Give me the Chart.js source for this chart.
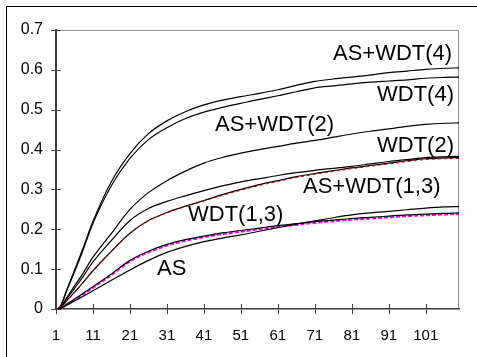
<!DOCTYPE html>
<html lang="en">

<head>
    <meta charset="UTF-8">
    <title>Convergence curves</title>
    <script src="https://cdn.jsdelivr.net/npm/chart.js"></script>
    <style>
        html,
        body {
            margin: 0;
            padding: 0;
            background-color: #ffffff;
        }

        .chart-container {
            position: relative;
            width: 477px;
            height: 357px;
        }
    </style>
</head>

<body>

    <div class="chart-container">
        <canvas id="lineChart" width="477" height="357"></canvas>
    </div>

    <script>
        // x positions of the sampled points
        const xValues = [1, 2, 4, 6, 8, 11, 16, 21, 26, 31, 36, 41, 46, 51, 56, 61, 66, 71, 76, 81, 86, 91, 96, 101, 106, 110];

        const asWdt4 = [0, 0.004, 0.05, 0.097, 0.145, 0.22, 0.32, 0.39, 0.44, 0.472, 0.495, 0.512, 0.524, 0.533, 0.541, 0.55, 0.561, 0.571, 0.577, 0.582, 0.587, 0.593, 0.597, 0.601, 0.604, 0.605];
        const wdt4 = [0, 0.004, 0.048, 0.093, 0.14, 0.215, 0.31, 0.378, 0.425, 0.455, 0.478, 0.494, 0.506, 0.516, 0.526, 0.535, 0.545, 0.555, 0.56, 0.565, 0.569, 0.572, 0.575, 0.579, 0.581, 0.582];
        const asWdt2 = [0, 0.003, 0.03, 0.058, 0.085, 0.13, 0.19, 0.25, 0.292, 0.322, 0.346, 0.366, 0.38, 0.391, 0.4, 0.408, 0.416, 0.423, 0.431, 0.439, 0.446, 0.452, 0.458, 0.463, 0.466, 0.467];
        const wdt2 = [0, 0.003, 0.027, 0.052, 0.077, 0.118, 0.172, 0.222, 0.252, 0.27, 0.284, 0.297, 0.309, 0.319, 0.327, 0.335, 0.342, 0.348, 0.353, 0.358, 0.364, 0.37, 0.375, 0.38, 0.382, 0.383];
        const asWdt13 = [0, 0.002, 0.022, 0.042, 0.063, 0.096, 0.145, 0.19, 0.222, 0.242, 0.258, 0.272, 0.287, 0.3, 0.312, 0.322, 0.332, 0.34, 0.347, 0.354, 0.36, 0.366, 0.372, 0.377, 0.379, 0.38];
        const wdt13 = [0, 0.002, 0.013, 0.025, 0.037, 0.056, 0.088, 0.122, 0.145, 0.162, 0.174, 0.183, 0.191, 0.197, 0.203, 0.209, 0.214, 0.219, 0.223, 0.227, 0.23, 0.233, 0.236, 0.238, 0.24, 0.241];
        const asOnly = [0, 0.001, 0.01, 0.02, 0.03, 0.046, 0.072, 0.098, 0.122, 0.142, 0.157, 0.169, 0.178, 0.186, 0.195, 0.204, 0.213, 0.221, 0.229, 0.236, 0.241, 0.245, 0.249, 0.253, 0.256, 0.257];
        // coloured reference curves lying on top of two of the black ones
        const redCurve = [0, 0.002, 0.021, 0.041, 0.062, 0.095, 0.144, 0.189, 0.221, 0.241, 0.257, 0.271, 0.285, 0.298, 0.31, 0.32, 0.33, 0.338, 0.345, 0.352, 0.358, 0.364, 0.37, 0.375, 0.377, 0.378];
        const magentaCurve = [0, 0.001, 0.011, 0.022, 0.034, 0.053, 0.085, 0.119, 0.142, 0.159, 0.171, 0.18, 0.188, 0.194, 0.2, 0.206, 0.211, 0.216, 0.22, 0.224, 0.227, 0.23, 0.233, 0.235, 0.237, 0.238];

        const xTicks = [1, 11, 21, 31, 41, 51, 61, 71, 81, 91, 101];
        const yTicks = [0, 0.1, 0.2, 0.3, 0.4, 0.5, 0.6, 0.7];

        // text labels next to the curves (canvas pixels, left edge / baseline)
        const curveLabels = [
            { text: 'AS+WDT(4)', x: 333, y: 60 },
            { text: 'WDT(4)', x: 377, y: 101 },
            { text: 'AS+WDT(2)', x: 215, y: 131 },
            { text: 'WDT(2)', x: 377, y: 152 },
            { text: 'AS+WDT(1,3)', x: 303, y: 193 },
            { text: 'WDT(1,3)', x: 188, y: 221 },
            { text: 'AS', x: 157, y: 275 }
        ];

        const AXIS_COLOR = '#404040';
        const FONT = '"Liberation Sans", Arial, sans-serif';

        function toPoints(ys) {
            return xValues.map((x, i) => ({ x: x, y: ys[i] }));
        }

        function blackLine(ys) {
            return {
                data: toPoints(ys),
                borderColor: '#000000',
                borderWidth: 1.2,
                pointRadius: 0,
                cubicInterpolationMode: 'monotone'
            };
        }

        // frame, plot border, crossing tick marks and curve labels
        const decorPlugin = {
            id: 'decor',
            beforeDraw(chart) {
                const ctx = chart.ctx;
                const a = chart.chartArea;
                ctx.save();
                ctx.fillStyle = '#ffffff';
                ctx.fillRect(0, 0, chart.width, chart.height);
                ctx.strokeStyle = '#000000';
                ctx.lineWidth = 1;
                ctx.strokeRect(6.5, 6.5, chart.width + 10, chart.height + 10);
                ctx.strokeStyle = '#8c8c8c';
                ctx.beginPath();
                ctx.moveTo(a.left, a.top + 0.5);
                ctx.lineTo(a.right - 0.5, a.top + 0.5);
                ctx.lineTo(a.right - 0.5, a.bottom);
                ctx.stroke();
                ctx.restore();
            },
            afterDraw(chart) {
                const ctx = chart.ctx;
                const a = chart.chartArea;
                const xs = chart.scales.x;
                const ys = chart.scales.y;
                ctx.save();
                ctx.strokeStyle = AXIS_COLOR;
                ctx.lineWidth = 1;
                ctx.beginPath();
                xTicks.forEach(v => {
                    const px = Math.round(xs.getPixelForValue(v)) + 0.5;
                    ctx.moveTo(px, a.bottom - 5);
                    ctx.lineTo(px, a.bottom + 5);
                });
                yTicks.forEach(v => {
                    const py = Math.round(ys.getPixelForValue(v)) + 0.5;
                    ctx.moveTo(a.left - 5, py);
                    ctx.lineTo(a.left + 5, py);
                });
                ctx.stroke();

                ctx.fillStyle = '#000000';
                ctx.font = '22px ' + FONT;
                ctx.textAlign = 'left';
                ctx.textBaseline = 'alphabetic';
                curveLabels.forEach(l => ctx.fillText(l.text, l.x, l.y));
                ctx.restore();
            }
        };

        function renderChart() {
            const ctx = document.getElementById('lineChart').getContext('2d');
            new Chart(ctx, {
                type: 'line',
                data: {
                    datasets: [
                        {
                            data: toPoints(redCurve),
                            borderColor: '#cc0000',
                            borderWidth: 1,
                            borderDash: [3, 3],
                            pointRadius: 0,
                            cubicInterpolationMode: 'monotone'
                        },
                        blackLine(asWdt4),
                        blackLine(wdt4),
                        blackLine(asWdt2),
                        blackLine(wdt2),
                        blackLine(asWdt13),
                        blackLine(wdt13),
                        blackLine(asOnly),
                        {
                            data: toPoints(magentaCurve),
                            borderColor: '#ff00ff',
                            borderWidth: 2,
                            borderDash: [4, 2],
                            pointRadius: 0,
                            cubicInterpolationMode: 'monotone'
                        }
                    ]
                },
                options: {
                    responsive: false,
                    animation: false,
                    devicePixelRatio: 1,
                    layout: {
                        padding: { left: 6, top: 30, right: 18, bottom: 0 }
                    },
                    plugins: {
                        legend: { display: false },
                        tooltip: { enabled: false }
                    },
                    scales: {
                        x: {
                            type: 'linear',
                            min: 1,
                            max: 110,
                            afterBuildTicks: scale => {
                                scale.ticks = xTicks.map(v => ({ value: v }));
                            },
                            afterFit: scale => {
                                scale.height = 48;
                            },
                            grid: { display: false, drawTicks: false },
                            border: { color: AXIS_COLOR, width: 1.5 },
                            ticks: {
                                color: '#000000',
                                padding: 18,
                                maxRotation: 0,
                                autoSkip: false,
                                font: { family: FONT, size: 15 }
                            }
                        },
                        y: {
                            min: 0,
                            max: 0.7,
                            afterBuildTicks: scale => {
                                scale.ticks = yTicks.map(v => ({ value: v }));
                            },
                            afterFit: scale => {
                                scale.width = 50;
                            },
                            grid: { display: false, drawTicks: false },
                            border: { color: AXIS_COLOR, width: 2 },
                            ticks: {
                                color: '#000000',
                                padding: 13,
                                font: { family: FONT, size: 16 },
                                callback: v => v === 0 ? '0' : v.toFixed(1)
                            }
                        }
                    }
                },
                plugins: [decorPlugin]
            });
        }

        document.addEventListener('DOMContentLoaded', renderChart);
    </script>

</body>

</html>
